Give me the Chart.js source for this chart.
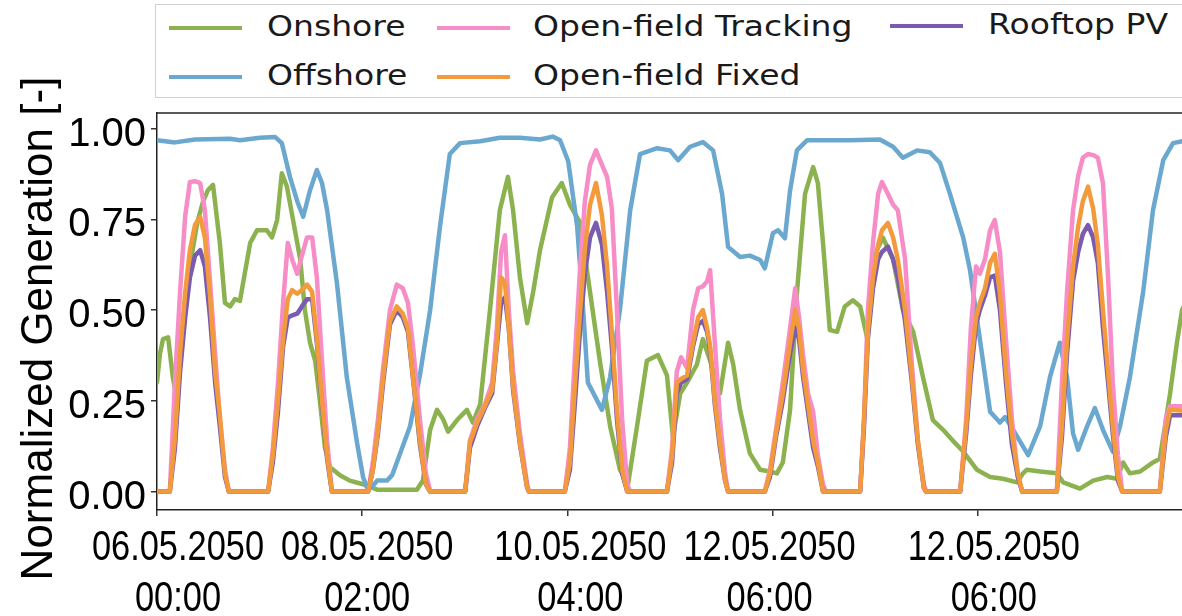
<!DOCTYPE html>
<html>
<head>
<meta charset="utf-8">
<title>Normalized Generation</title>
<script src="https://cdn.jsdelivr.net/npm/chart.js@4.4.1/dist/chart.umd.min.js"></script>
<style>
  html, body { margin: 0; padding: 0; background: #fff; overflow: hidden; width: 1182px; height: 616px; }
  #wrap { position: absolute; left: 0; top: 0; width: 1200px; height: 616px; }
  #legend {
    position: absolute; left: 155px; top: 4px; width: 1100px; height: 94px;
    border: 1.5px solid #cfcfcf; background: #fff; box-sizing: border-box;
  }
  .lg-line { position: absolute; width: 73px; height: 4px; }
  .lg-text {
    position: absolute; font-family: "DejaVu Sans", sans-serif; font-size: 28px;
    line-height: 28px; color: #1a1a1a; white-space: nowrap;
    transform: scaleX(1.18); transform-origin: left center;
  }
</style>
</head>
<body>
<div id="wrap"><canvas id="genChart"></canvas></div>
<div id="legend"></div>

<script>
/* ── Normalized generation, hourly profiles ───────────────────────── */

// x axis is hours since 06.05.2050 00:00
const xTickHours = [0, 48, 96, 144, 192];
const xTickDates = ['06.05.2050', '08.05.2050', '10.05.2050', '12.05.2050', '12.05.2050'];
const xTickTimes = ['00:00', '02:00', '04:00', '06:00', '06:00'];
const yTickValues = [0, 0.25, 0.5, 0.75, 1.0];

// Onshore wind
const onshoreHours = [
  0, 0.7, 1.4, 2.6, 3.7, 4.7, 6.1, 7.7, 9.4, 10.8, 11.9, 13.1, 14.7, 15.9, 17.1, 18.2, 19.4,
  21.8, 23.4, 25.7, 26.9, 28.1, 29.2, 30.4, 31.8, 33.5, 34.6, 35.8, 37.0, 38.1, 39.3, 40.5,
  42.8, 45.1, 48.2, 51.5, 60.8, 62.2, 63.9, 65.5, 66.9, 68.1, 70.2, 72.5, 73.9, 75.6, 77.9,
  80.2, 82.1, 83.3, 84.9, 86.6, 88.0, 89.6, 92.4, 94.7, 96.6, 99.0, 101.3, 103.6, 106.0,
  108.3, 110.2, 112.3, 114.6, 117.2, 119.3, 120.7, 122.4, 124.0, 126.3, 127.7, 129.4, 131.7,
  133.6, 134.8, 136.4, 138.7, 141.1, 143.4, 145.0, 146.4, 148.1, 149.7, 151.6, 153.5, 154.6,
  155.8, 157.4, 159.1, 160.9, 162.8, 164.5, 166.1, 167.2, 168.4, 169.8, 172.2, 174.5, 176.9,
  179.2, 181.5, 183.9, 186.2, 188.6, 191.8, 194.9, 197.9, 201.2, 202.6, 203.5, 206.6, 210.5,
  212.0, 215.9, 219.0, 222.3, 224.6, 226.0, 227.6, 230.0, 233.0, 234.6, 237.0, 238.6, 239.8, 244
];
const onshoreValues = [
  0.30, 0.38, 0.42, 0.425, 0.315, 0.25, 0.45, 0.62, 0.74, 0.80, 0.83, 0.845, 0.685, 0.52, 0.51, 0.53, 0.525,
  0.685, 0.72, 0.72, 0.70, 0.748, 0.877, 0.84, 0.75, 0.64, 0.50, 0.41, 0.36, 0.25, 0.12, 0.067,
  0.045, 0.03, 0.02, 0.005, 0.005, 0.03, 0.17, 0.225, 0.20, 0.165, 0.197, 0.225, 0.19, 0.24, 0.50,
  0.775, 0.867, 0.775, 0.59, 0.464, 0.55, 0.665, 0.81, 0.85, 0.79, 0.74, 0.55, 0.36, 0.18,
  0.06, 0.02, 0.18, 0.36, 0.376, 0.32, 0.15, 0.27, 0.30, 0.35, 0.42, 0.36, 0.27,
  0.41, 0.35, 0.225, 0.105, 0.06, 0.055, 0.05, 0.08, 0.225, 0.547, 0.82, 0.894, 0.85,
  0.685, 0.445, 0.44, 0.51, 0.527, 0.51, 0.425, 0.55, 0.665, 0.70, 0.64, 0.50, 0.44,
  0.315, 0.197, 0.17, 0.14, 0.11, 0.06, 0.04, 0.035, 0.025, 0.05, 0.06, 0.055, 0.05,
  0.025, 0.008, 0.03, 0.04, 0.035, 0.08, 0.05, 0.055, 0.08, 0.09, 0.27, 0.41, 0.50, 0.60
];

// Offshore wind
const offshoreHours = [
  0, 4.2, 8.9, 17.1, 19.4, 24.1, 27.6, 29.2, 31.1, 32.8, 34.2, 35.8, 37.4, 38.6, 39.8, 42.1,
  44.4, 46.8, 48.2, 49.1, 50.3, 51.5, 53.8, 55.0, 56.1, 59.2, 61.5, 63.9, 66.2, 68.5, 70.9,
  75.6, 80.2, 84.9, 89.6, 92.6, 94.3, 96.2, 98.3, 99.7, 100.8, 104.1, 106.0, 108.3, 110.7,
  113.0, 117.0, 120.0, 121.9, 124.7, 127.7, 130.1, 132.2, 133.6, 136.4, 138.7, 141.1, 142.2,
  144.1, 145.3, 146.9, 148.1, 149.7, 152.1, 162.1, 169.1, 172.2, 174.5, 177.8, 180.8, 183.2,
  185.5, 188.6, 190.2, 192.5, 194.9, 197.2, 198.4, 200.3, 203.8, 206.6, 208.9, 211.2, 212.9,
  214.3, 215.5, 217.6, 219.4, 221.3, 223.6, 225.3, 227.6, 230.7, 233.0, 235.4, 237.7, 239.8, 244
];
const offshoreValues = [
  0.968, 0.962, 0.97, 0.972, 0.968, 0.975, 0.977, 0.96, 0.867, 0.80, 0.757, 0.83, 0.886, 0.85, 0.775, 0.574,
  0.315, 0.134, 0.04, 0.012, 0.012, 0.03, 0.03, 0.045, 0.08, 0.18, 0.32, 0.50, 0.73, 0.93, 0.96,
  0.965, 0.975, 0.975, 0.97, 0.978, 0.968, 0.91, 0.73, 0.50, 0.30, 0.225, 0.315, 0.50, 0.775,
  0.93, 0.946, 0.94, 0.913, 0.95, 0.963, 0.94, 0.82, 0.674, 0.646, 0.65, 0.638, 0.615,
  0.712, 0.72, 0.698, 0.83, 0.94, 0.968, 0.968, 0.97, 0.95, 0.92, 0.94, 0.935, 0.905,
  0.82, 0.70, 0.61, 0.42, 0.22, 0.19, 0.205, 0.17, 0.10, 0.18, 0.315, 0.41, 0.315,
  0.16, 0.115, 0.18, 0.23, 0.17, 0.11, 0.18, 0.315, 0.55, 0.775, 0.913, 0.96, 0.965, 0.968
];

// PV profiles share one time base (one row per day)
const solarHours = [
  0, 3.0, 4.2, 5.4, 6.6, 7.7, 8.9, 10.1, 11.2, 12.4, 13.6, 14.7, 15.9, 16.8,
  26.0, 27.1, 28.3, 29.5, 30.6, 31.6, 32.8, 33.9, 35.1, 36.3, 37.4, 38.6, 39.8, 40.9,
  49.4, 50.5, 51.7, 52.9, 54.5, 56.1, 57.5, 58.7, 59.9, 61.5, 62.9, 63.9,
  72.1, 73.2, 74.9, 76.7, 78.4, 79.5, 80.5, 81.4, 82.3, 83.3, 84.9, 86.6, 87.0,
  95.4, 96.6, 97.8, 99.0, 100.1, 101.3, 102.7, 104.1, 105.3, 106.4, 107.6, 108.8, 110.0, 110.7,
  119.3, 120.5, 121.6, 122.6, 124.0, 125.4, 126.6, 127.7, 128.7, 129.4, 130.5, 131.7, 132.9, 133.6,
  142.2, 143.4, 144.8, 146.4, 148.1, 149.3, 150.2, 151.1, 152.3, 153.5, 154.6, 155.8, 156.5,
  164.5, 165.4, 166.3, 167.5, 168.7, 169.6, 171.0, 172.2, 173.3, 175.0, 176.6, 178.0, 179.4, 179.9,
  187.9, 189.3, 190.4, 191.6, 192.5, 193.7, 194.9, 196.0, 197.2, 198.6, 200.0, 201.4, 202.4,
  210.5, 211.7, 212.9, 214.3, 215.5, 216.6, 217.8, 219.0, 220.1, 221.3, 222.5, 223.6, 224.8, 225.8,
  234.6, 236.0, 237.0, 244
];
const trackingValues = [
  0, 0, 0.30, 0.55, 0.76, 0.853, 0.855, 0.85, 0.775, 0.58, 0.38, 0.20, 0.06, 0,
  0, 0.12, 0.30, 0.52, 0.685, 0.64, 0.60, 0.65, 0.70, 0.70, 0.59, 0.36, 0.14, 0,
  0, 0.08, 0.20, 0.34, 0.50, 0.57, 0.56, 0.52, 0.40, 0.20, 0.05, 0,
  0, 0.14, 0.20, 0.24, 0.30, 0.45, 0.66, 0.706, 0.50, 0.33, 0.16, 0.02, 0,
  0, 0.12, 0.38, 0.62, 0.80, 0.90, 0.94, 0.90, 0.867, 0.78, 0.50, 0.20, 0.02, 0,
  0, 0.12, 0.33, 0.37, 0.34, 0.50, 0.56, 0.565, 0.58, 0.61, 0.41, 0.20, 0.05, 0,
  0, 0.06, 0.17, 0.30, 0.45, 0.56, 0.48, 0.38, 0.27, 0.22, 0.10, 0.02, 0,
  0, 0.20, 0.50, 0.685, 0.82, 0.853, 0.82, 0.79, 0.775, 0.64, 0.35, 0.14, 0.02, 0,
  0, 0.20, 0.45, 0.62, 0.60, 0.64, 0.72, 0.748, 0.66, 0.42, 0.20, 0.04, 0,
  0, 0.30, 0.55, 0.775, 0.87, 0.92, 0.93, 0.927, 0.92, 0.85, 0.59, 0.30, 0.10, 0,
  0, 0.20, 0.235, 0.235
];
const fixedValues = [
  0, 0, 0.15, 0.38, 0.55, 0.665, 0.735, 0.756, 0.70, 0.54, 0.33, 0.21, 0.05, 0,
  0, 0.10, 0.25, 0.42, 0.53, 0.555, 0.545, 0.555, 0.57, 0.55, 0.42, 0.25, 0.10, 0,
  0, 0.06, 0.17, 0.315, 0.47, 0.51, 0.49, 0.45, 0.315, 0.14, 0.02, 0,
  0, 0.134, 0.19, 0.235, 0.28, 0.41, 0.59, 0.575, 0.45, 0.29, 0.134, 0.01, 0,
  0, 0.08, 0.30, 0.50, 0.67, 0.79, 0.85, 0.76, 0.62, 0.44, 0.225, 0.06, 0, 0,
  0, 0.10, 0.30, 0.31, 0.32, 0.41, 0.48, 0.50, 0.45, 0.40, 0.25, 0.134, 0.03, 0,
  0, 0.05, 0.16, 0.27, 0.41, 0.50, 0.45, 0.34, 0.24, 0.14, 0.08, 0, 0,
  0, 0.20, 0.44, 0.59, 0.68, 0.72, 0.74, 0.70, 0.64, 0.50, 0.315, 0.14, 0.01, 0,
  0, 0.18, 0.35, 0.48, 0.52, 0.56, 0.63, 0.655, 0.545, 0.33, 0.16, 0.05, 0,
  0, 0.18, 0.42, 0.62, 0.73, 0.80, 0.84, 0.78, 0.68, 0.50, 0.33, 0.18, 0.04, 0,
  0, 0.17, 0.225, 0.22
];
const rooftopValues = [
  0, 0, 0.12, 0.33, 0.48, 0.59, 0.65, 0.665, 0.62, 0.48, 0.30, 0.18, 0.04, 0,
  0, 0.08, 0.22, 0.40, 0.48, 0.485, 0.49, 0.51, 0.53, 0.53, 0.41, 0.24, 0.09, 0,
  0, 0.06, 0.16, 0.30, 0.46, 0.50, 0.48, 0.44, 0.31, 0.13, 0.02, 0,
  0, 0.12, 0.18, 0.23, 0.27, 0.40, 0.52, 0.535, 0.45, 0.28, 0.13, 0.01, 0,
  0, 0.06, 0.25, 0.45, 0.60, 0.70, 0.74, 0.68, 0.55, 0.40, 0.20, 0.05, 0, 0,
  0, 0.08, 0.27, 0.30, 0.31, 0.40, 0.46, 0.47, 0.44, 0.39, 0.24, 0.12, 0.03, 0,
  0, 0.04, 0.15, 0.25, 0.38, 0.45, 0.42, 0.32, 0.22, 0.12, 0.07, 0, 0,
  0, 0.18, 0.42, 0.56, 0.64, 0.66, 0.675, 0.64, 0.59, 0.47, 0.30, 0.13, 0.01, 0,
  0, 0.16, 0.32, 0.46, 0.50, 0.54, 0.59, 0.595, 0.50, 0.30, 0.13, 0.04, 0,
  0, 0.15, 0.38, 0.58, 0.66, 0.71, 0.734, 0.70, 0.63, 0.45, 0.30, 0.16, 0.03, 0,
  0, 0.15, 0.21, 0.21
];

const yTitle = 'Normalized Generation [-]';

// ── Series setup ─────────────────────────────────────────────────────
function pts(hours, values) {
  return hours.map(function(h, i) { return { x: h, y: values[i] }; });
}

var series = [
  { label: 'Onshore',             color: '#8bb24e', data: pts(onshoreHours, onshoreValues),  order: 5 },
  { label: 'Offshore',            color: '#6aa8d0', data: pts(offshoreHours, offshoreValues), order: 4 },
  { label: 'Open-field Tracking', color: '#f78dc6', data: pts(solarHours, trackingValues),   order: 3 },
  { label: 'Open-field Fixed',    color: '#f39a3d', data: pts(solarHours, fixedValues),      order: 1 },
  { label: 'Rooftop PV',          color: '#7a5bb0', data: pts(solarHours, rooftopValues),    order: 2 }
];
// legend is laid out in columns, filled top to bottom
var legendSlots = [
  { line: 13, text: 111, y: 23 },
  { line: 13, text: 111, y: 72 },
  { line: 281, text: 377, y: 23 },
  { line: 281, text: 377, y: 72 },
  { line: 734, text: 832, y: 21 }
];
// the date labels sit a little off their tick marks
var dateLabelShift = [21, 5, 13, -3, 16];

// ── HTML legend ──────────────────────────────────────────────────────
var lg = document.getElementById('legend');
series.forEach(function(s, i) {
  var slot = legendSlots[i];
  var line = document.createElement('div');
  line.className = 'lg-line';
  line.style.left = slot.line + 'px';
  line.style.top = (slot.y - 2) + 'px';
  line.style.background = s.color;
  lg.appendChild(line);
  var txt = document.createElement('div');
  txt.className = 'lg-text';
  txt.style.left = slot.text + 'px';
  txt.style.top = (slot.y - 15) + 'px';
  txt.textContent = s.label;
  lg.appendChild(txt);
});

// ── Plugins: top frame, condensed date labels, rotated axis title ────
const frameTop = {
  id: 'frameTop',
  afterDatasetsDraw: function(chart) {
    var a = chart.chartArea, ctx = chart.ctx;
    ctx.save();
    ctx.strokeStyle = '#222';
    ctx.lineWidth = 1.5;
    ctx.beginPath();
    ctx.moveTo(a.left, a.top);
    ctx.lineTo(a.right, a.top);
    ctx.stroke();
    ctx.restore();
  }
};

// date/time labels are set in a narrow face, so squeeze them horizontally
const dateLabels = {
  id: 'dateLabels',
  afterDraw: function(chart) {
    var sc = chart.scales.x, ctx = chart.ctx;
    ctx.save();
    ctx.font = '43px "Liberation Sans", Arial, sans-serif';
    ctx.fillStyle = '#000';
    ctx.textAlign = 'center';
    ctx.textBaseline = 'middle';
    xTickHours.forEach(function(h, i) {
      ctx.save();
      ctx.translate(sc.getPixelForValue(h) + dateLabelShift[i], sc.top);
      ctx.scale(0.8, 1);
      ctx.fillText(xTickDates[i], 0, 38);
      ctx.fillText(xTickTimes[i], 0, 89);
      ctx.restore();
    });
    ctx.restore();
  }
};

const axisTitle = {
  id: 'axisTitle',
  afterDraw: function(chart) {
    var a = chart.chartArea, ctx = chart.ctx;
    ctx.save();
    ctx.translate(52, (a.top + a.bottom) / 2 + 17);
    ctx.rotate(-Math.PI / 2);
    ctx.font = '44px "Liberation Sans", Arial, sans-serif';
    ctx.fillStyle = '#000';
    ctx.textAlign = 'center';
    ctx.textBaseline = 'alphabetic';
    ctx.fillText(yTitle, 0, 0);
    ctx.restore();
  }
};

// ── Chart ────────────────────────────────────────────────────────────
var axisGrid = { drawOnChartArea: false, drawTicks: true, tickLength: 6, color: '#333', lineWidth: 1.5 };
var axisBorder = { display: true, color: '#222', width: 1.5 };

new Chart(document.getElementById('genChart').getContext('2d'), {
  type: 'line',
  data: {
    datasets: series.map(function(s) {
      return {
        label: s.label,
        data: s.data,
        borderColor: s.color,
        backgroundColor: s.color,
        order: s.order
      };
    })
  },
  options: {
    responsive: true,
    maintainAspectRatio: false,
    animation: false,
    layout: { padding: { top: 113, left: 0, right: 0, bottom: 0 } },
    elements: {
      point: { radius: 0 },
      line: { tension: 0, borderWidth: 4.5, borderJoinStyle: 'round', borderCapStyle: 'round' }
    },
    plugins: {
      legend: { display: false },
      tooltip: { enabled: false }
    },
    scales: {
      x: {
        type: 'linear',
        min: 0,
        max: 244,
        afterBuildTicks: function(s) { s.ticks = xTickHours.map(function(v) { return { value: v }; }); },
        afterFit: function(s) { s.height = 106; },
        grid: axisGrid,
        border: axisBorder,
        ticks: { display: false }
      },
      y: {
        min: -0.051,
        max: 1.043,
        afterBuildTicks: function(s) { s.ticks = yTickValues.map(function(v) { return { value: v }; }); },
        afterFit: function(s) { s.width = 157; },
        grid: axisGrid,
        border: axisBorder,
        ticks: {
          padding: 5,
          labelOffset: 6,
          color: '#000',
          font: { family: '"Liberation Sans", Arial, sans-serif', size: 40 },
          callback: function(v) { return v.toFixed(2); }
        }
      }
    }
  },
  plugins: [frameTop, dateLabels, axisTitle]
});
</script>
</body>
</html>
